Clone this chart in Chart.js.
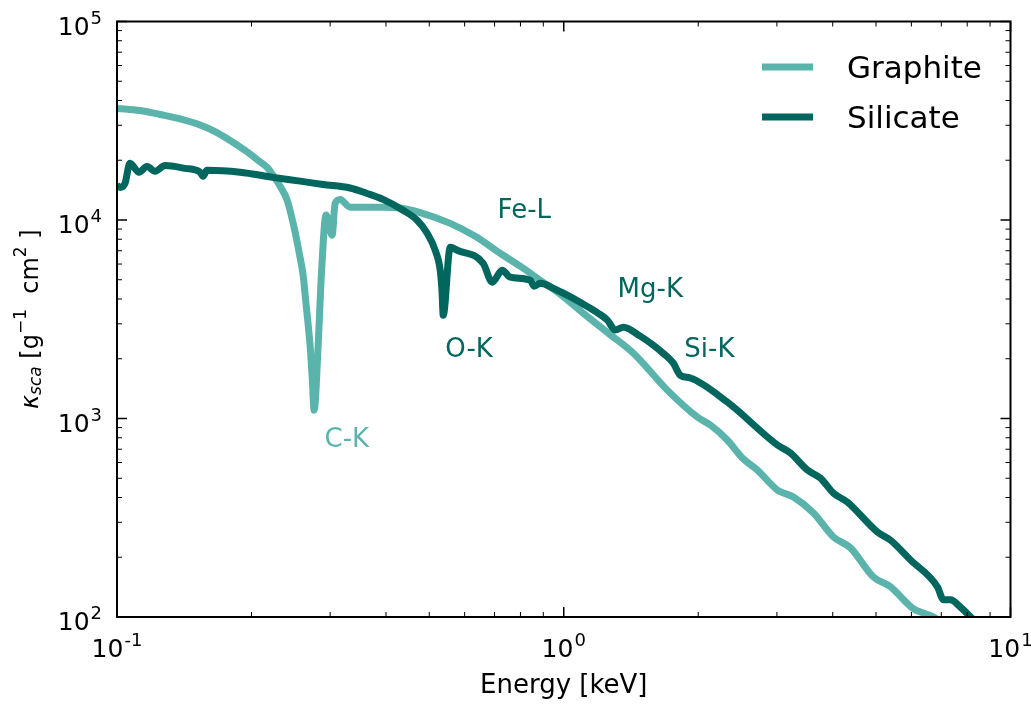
<!DOCTYPE html>
<html>
<head>
<meta charset="utf-8">
<title>Dust scattering opacity</title>
<script src="https://cdn.jsdelivr.net/npm/chart.js@4/dist/chart.umd.min.js"></script>
<style>
  html, body { margin: 0; padding: 0; background: #fff; }
  #wrap { width: 1031px; height: 705px; }
</style>
</head>
<body>
<div id="wrap"><canvas id="kappaChart" width="1031" height="705"></canvas></div>
<script>
// Scattering opacity vs photon energy (keV -> cm^2 g^-1)
const graphiteEnergy = [0.100, 0.1126, 0.1248, 0.1384, 0.1535, 0.1658, 0.1745, 0.1935, 0.2069, 0.2168,
    0.2259, 0.2330, 0.2404, 0.2454, 0.2505, 0.2556, 0.261, 0.2651, 0.2705, 0.2733, 0.2762,
    0.2819, 0.2863, 0.2938, 0.3031, 0.3077, 0.3158, 0.3325, 0.394, 0.4302, 0.4771, 0.557,
    0.6337, 0.7207, 0.7989, 0.886, 0.982, 1.106, 1.258, 1.432, 1.705, 1.991, 2.129, 2.323,
    2.511, 2.713, 3.008, 3.266, 3.622, 4.015, 4.383, 4.934, 5.386, 6.033, 6.723, 7.14];
const graphiteKappa = [36500, 35600, 34000, 32300, 30100, 27900, 26100, 22400, 20000, 18400,
    16200, 14500, 12600, 10600, 8670, 6870, 5270, 3720, 2340, 1650, 1100,
    2290, 4970, 10600, 8380, 12100, 12700, 11600, 11600, 11500, 10900, 9620,
    8280, 6800, 5850, 4970, 4230, 3390, 2690, 2130, 1390, 1017, 927, 779,
    632, 550, 436, 402, 334, 253, 223, 159, 142, 111, 100, 91];

const silicateEnergy = [0.100, 0.1016, 0.1042, 0.1069, 0.112, 0.1167, 0.1217, 0.1281, 0.142, 0.1535,
    0.1558, 0.159, 0.1886, 0.2235, 0.257, 0.2892, 0.3325, 0.3629, 0.394, 0.4369,
    0.4697, 0.4947, 0.5155, 0.529, 0.5341, 0.5372, 0.557, 0.5774, 0.6602, 0.6916,
    0.7282, 0.7589, 0.8414, 0.8588, 0.886, 0.957, 1.018, 1.078, 1.147, 1.195,
    1.252, 1.304, 1.359, 1.483, 1.587, 1.670, 1.759, 1.824, 1.920, 2.323,
    3.008, 3.217, 3.511, 3.754, 4.015, 4.315, 5.036, 5.386, 5.97, 6.862,
    7.08, 7.34, 7.73, 8.14, 8.47];
const silicateKappa = [14960, 14600, 15300, 19300, 17400, 18600, 17600, 18800, 18200, 17400,
    16600, 17800, 17400, 16400, 15700, 15100, 14500, 13600, 12700, 11200,
    9970, 8570, 7040, 5580, 4330, 3310, 7290, 7040, 6050, 4860,
    5580, 5150, 4970, 4640, 4800, 4480, 4180, 3900, 3590, 3390,
    3130, 2790, 2880, 2600, 2340, 2130, 1900, 1650, 1600, 1210,
    735, 670, 550, 501, 421, 379, 268, 244, 194, 142,
    122, 122, 112, 100, 91];

// absorption edge labels
const edgeLabels = ['C-K', 'O-K', 'Fe-L', 'Mg-K', 'Si-K'];
const edgeEnergy = [0.327, 0.614, 0.816, 1.562, 2.118];
const edgeKappa = [778, 2210, 11060, 4430, 2210];
const edgeColors = ['#5ab4ac', '#01665e', '#01665e', '#01665e', '#01665e'];

// axis ticks
const xMajorTicks = [0.1, 1, 10];
const xTickExponents = ['-1', '0', '1'];
const yMajorTicks = [1e2, 1e3, 1e4, 1e5];
const yTickExponents = ['2', '3', '4', '5'];

const FONT = '"DejaVu Sans", "Liberation Sans", sans-serif';
const GRAPHITE = '#5ab4ac';
const SILICATE = '#01665e';

function toPoints(xs, ys) {
    return xs.map((e, i) => ({ x: e, y: ys[i] }));
}

// 2..9 times each decade between the major ticks
function minorTicks(majors) {
    const out = [];
    for (let i = 0; i < majors.length - 1; i++) {
        for (let m = 2; m <= 9; m++) out.push(majors[i] * m);
    }
    return out;
}

function drawPower(ctx, exp, px, baseline, align) {
    ctx.font = '25px ' + FONT;
    const w1 = ctx.measureText('10').width;
    ctx.font = '18px ' + FONT;
    const w2 = ctx.measureText(exp).width;
    const total = w1 + 1 + w2;
    const x0 = align === 'center' ? px - total / 2 : px - total;
    ctx.textAlign = 'left';
    ctx.textBaseline = 'alphabetic';
    ctx.font = '25px ' + FONT;
    ctx.fillText('10', x0, baseline);
    ctx.font = '18px ' + FONT;
    ctx.fillText(exp, x0 + w1 + 1, baseline - 11);
}

// pieces of the y axis title, mathtext style
function drawYTitle(ctx, cx, cy) {
    const parts = [
        { t: 'κ', font: 'italic 24px ' + FONT, dy: 0 },
        { t: 'sca', font: 'italic 17px ' + FONT, dy: 5 },
        { t: ' [g', font: '24px ' + FONT, dy: 0 },
        { t: '−1', font: '17px ' + FONT, dy: -10 },
        { t: '  cm', font: '24px ' + FONT, dy: 0 },
        { t: '2', font: '17px ' + FONT, dy: -10 },
        { t: ' ]', font: '24px ' + FONT, dy: 0 }
    ];
    let total = 0;
    parts.forEach(p => { ctx.font = p.font; p.w = ctx.measureText(p.t).width; total += p.w; });
    ctx.save();
    ctx.translate(cx, cy);
    ctx.rotate(-Math.PI / 2);
    ctx.textAlign = 'left';
    ctx.textBaseline = 'middle';
    let x = -total / 2;
    parts.forEach(p => {
        ctx.font = p.font;
        ctx.fillText(p.t, x, p.dy);
        x += p.w;
    });
    ctx.restore();
}

const framePlugin = {
    id: 'frame',
    afterDraw(chart) {
        const { ctx, chartArea: a } = chart;
        const xs = chart.scales.x;
        const ys = chart.scales.y;
        ctx.save();
        ctx.strokeStyle = '#000';
        ctx.fillStyle = '#000';

        // inward ticks on all four sides
        const tick = (x1, y1, x2, y2, w) => {
            ctx.lineWidth = w;
            ctx.beginPath();
            ctx.moveTo(x1, y1);
            ctx.lineTo(x2, y2);
            ctx.stroke();
        };
        const xTicks = xMajorTicks.map(v => [v, 10]).concat(minorTicks(xMajorTicks).map(v => [v, 5]));
        xTicks.forEach(([v, len]) => {
            const px = xs.getPixelForValue(v);
            const w = len > 5 ? 1.5 : 1;
            tick(px, a.bottom, px, a.bottom - len, w);
            tick(px, a.top, px, a.top + len, w);
        });
        const yTicks = yMajorTicks.map(v => [v, 10]).concat(minorTicks(yMajorTicks).map(v => [v, 5]));
        yTicks.forEach(([v, len]) => {
            const py = ys.getPixelForValue(v);
            const w = len > 5 ? 1.5 : 1;
            tick(a.left, py, a.left + len, py, w);
            tick(a.right, py, a.right - len, py, w);
        });

        // spines
        ctx.lineWidth = 2;
        ctx.strokeRect(a.left, a.top, a.right - a.left, a.bottom - a.top);

        // tick labels
        xMajorTicks.forEach((v, i) => drawPower(ctx, xTickExponents[i], xs.getPixelForValue(v), a.bottom + 40, 'center'));
        yMajorTicks.forEach((v, i) => drawPower(ctx, yTickExponents[i], a.left - 15, ys.getPixelForValue(v) + 13, 'right'));

        // axis titles
        ctx.font = '26px ' + FONT;
        ctx.textAlign = 'center';
        ctx.textBaseline = 'alphabetic';
        ctx.fillText('Energy [keV]', (a.left + a.right) / 2, a.bottom + 76);
        drawYTitle(ctx, 32, (a.top + a.bottom) / 2);

        // edge annotations
        ctx.font = '26px ' + FONT;
        ctx.textAlign = 'center';
        ctx.textBaseline = 'middle';
        edgeLabels.forEach((lab, i) => {
            ctx.fillStyle = edgeColors[i];
            ctx.fillText(lab, xs.getPixelForValue(edgeEnergy[i]), ys.getPixelForValue(edgeKappa[i]));
        });

        // legend, upper right inside the axes
        ctx.font = '31px ' + FONT;
        ctx.textAlign = 'left';
        ctx.textBaseline = 'alphabetic';
        chart.data.datasets.forEach((ds, i) => {
            const ly = 67 + i * 50;
            ctx.strokeStyle = ds.borderColor;
            ctx.lineWidth = 7;
            ctx.beginPath();
            ctx.moveTo(762, ly);
            ctx.lineTo(813, ly);
            ctx.stroke();
            ctx.fillStyle = '#000';
            ctx.fillText(ds.label, 847, ly + 11);
        });
        ctx.restore();
    }
};

const lineStyle = {
    borderWidth: 7,
    pointRadius: 0,
    cubicInterpolationMode: 'monotone',
    borderJoinStyle: 'round',
    clip: 0
};

new Chart(document.getElementById('kappaChart'), {
    type: 'line',
    data: {
        datasets: [
            Object.assign({
                label: 'Graphite',
                data: toPoints(graphiteEnergy, graphiteKappa),
                borderColor: GRAPHITE,
                order: 1
            }, lineStyle),
            Object.assign({
                label: 'Silicate',
                data: toPoints(silicateEnergy, silicateKappa),
                borderColor: SILICATE,
                order: 0
            }, lineStyle)
        ]
    },
    options: {
        responsive: false,
        animation: false,
        devicePixelRatio: 1,
        layout: { padding: { left: 117, top: 21.5, right: 20.5, bottom: 88 } },
        scales: {
            x: { type: 'logarithmic', min: 0.1, max: 10, display: false },
            y: { type: 'logarithmic', min: 100, max: 1e5, display: false }
        },
        plugins: {
            legend: { display: false },
            tooltip: { enabled: false }
        }
    },
    plugins: [framePlugin]
});
</script>
</body>
</html>
